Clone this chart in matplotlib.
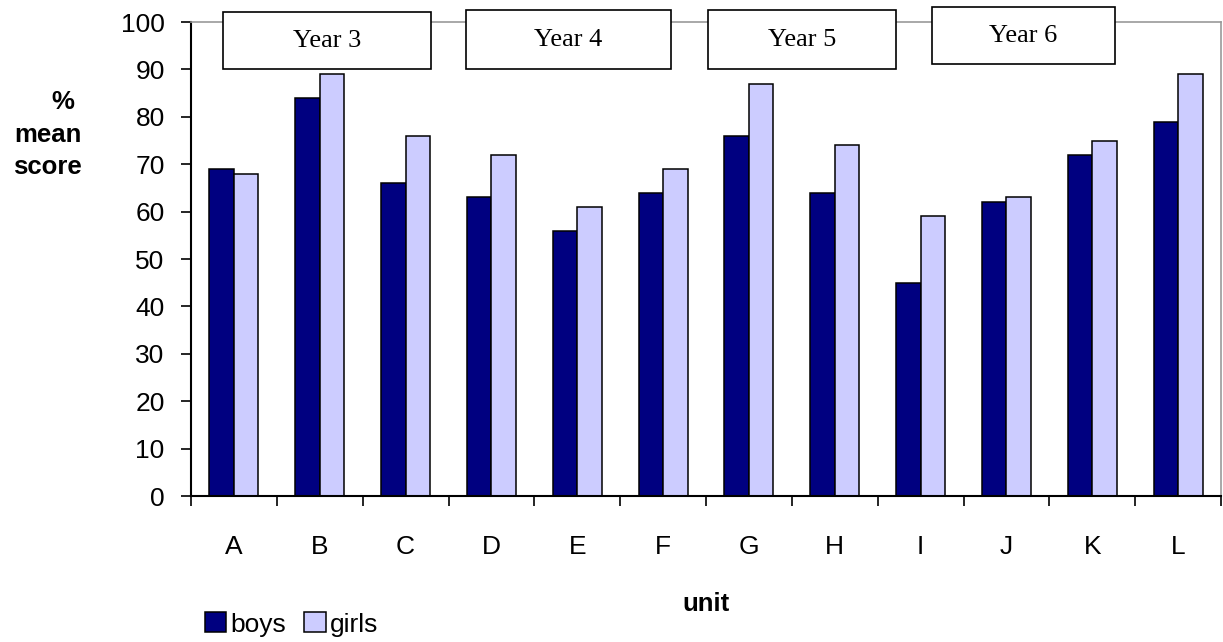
import numpy as np
import matplotlib.pyplot as plt
from matplotlib.patches import Rectangle

units = ['A', 'B', 'C', 'D', 'E', 'F', 'G', 'H', 'I', 'J', 'K', 'L']
boys = [69, 84, 66, 63, 56, 64, 76, 64, 45, 62, 72, 79]
girls = [68, 89, 76, 72, 61, 69, 87, 74, 59, 63, 75, 89]
years = ['Year 3', 'Year 4', 'Year 5', 'Year 6']
# box extents (x from, x to, y bottom, y top) in data units
year_boxes = [(-0.13, 2.30, 90.1, 102.1), (2.70, 5.09, 90.1, 102.5),
              (5.52, 7.71, 90.1, 102.5), (8.13, 10.27, 91.1, 103.1)]

plt.rcParams['font.family'] = ['Liberation Sans', 'DejaVu Sans']

fig = plt.figure(figsize=(12.23, 6.42), dpi=100)
ax = fig.add_axes([0.1562, 0.2274, 0.8422, 0.7383])

x = np.arange(len(units))
w = 0.285
ax.bar(x - w / 2, boys, w, color='#000080', edgecolor='black', linewidth=1.1, label='boys')
ax.bar(x + w / 2, girls, w, color='#CCCCFF', edgecolor='black', linewidth=1.1, label='girls')

ax.set_xlim(-0.5, 11.5)
ax.set_ylim(0, 100)
ax.set_yticks(range(0, 101, 10))
ax.tick_params(axis='y', labelsize=19, length=7, width=1.2, direction='out', pad=12)

# ticks at category boundaries, labels at centers
ax.set_xticks(np.arange(-0.5, 12, 1))
ax.set_xticklabels([])
ax.set_xticks(x, minor=True)
ax.set_xticklabels(units, minor=True)
ax.tick_params(axis='x', which='major', length=7.5, width=1.2, direction='out')
ax.tick_params(axis='x', which='minor', length=0, labelsize=19, pad=28)

for s in ['left', 'bottom']:
    ax.spines[s].set_linewidth(1.5)
for s in ['top', 'right']:
    ax.spines[s].set_color('#999999')
    ax.spines[s].set_linewidth(1.2)

for name, (x0, x1, y0, y1) in zip(years, year_boxes):
    ax.add_patch(Rectangle((x0, y0), x1 - x0, y1 - y0, facecolor='white',
                           edgecolor='black', linewidth=1.2, clip_on=False, zorder=5))
    ax.text((x0 + x1) / 2, (y0 + y1) / 2, name, ha='center', va='center',
            fontsize=19, family='Liberation Serif', zorder=6)

ax.set_xlabel('unit', fontsize=18.5, fontweight='bold', labelpad=24)
fig.text(0.067, 0.79, '% \nmean\nscore', ha='right', va='center', fontsize=18.5,
         fontweight='bold', linespacing=1.45, multialignment='right')

fig.legend(loc='lower left', bbox_to_anchor=(0.157, -0.012), ncol=2, frameon=False,
           fontsize=19, handlelength=0.8, handleheight=0.8, handletextpad=0.15,
           columnspacing=0.7, borderaxespad=0.1)

plt.savefig('out.png', dpi=100)
